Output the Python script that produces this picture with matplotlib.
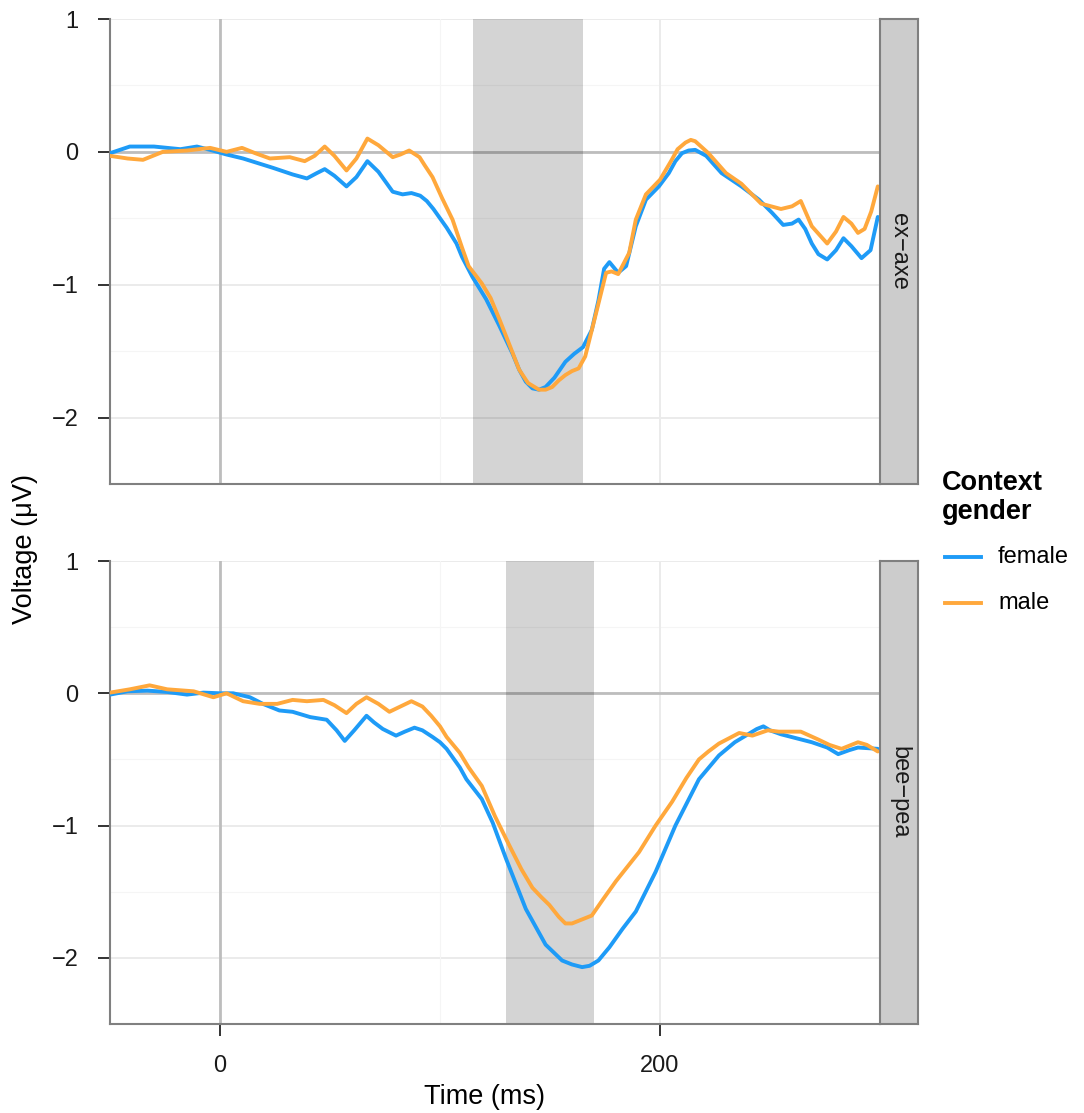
import matplotlib
matplotlib.use("Agg")
import matplotlib.pyplot as plt
from matplotlib.lines import Line2D

plt.rcParams['font.family'] = ['Liberation Sans', 'DejaVu Sans']

# ---------------- data ----------------
panels = ["ex\u2212axe", "bee\u2212pea"]
series_names = ["female", "male"]
series_colors = ["#1E9BF7", "#FFA83C"]
shade_windows = [(115, 165), (130, 170)]

top_female_t = [-50, -41, -30, -18, -10.5, -4.5, 3, 10.5, 24, 33, 39.5, 44, 47.6, 52, 57.5, 62,
                67, 72, 78.5, 83, 87, 91, 94, 97, 100, 103, 107.5, 110, 114.7, 121, 127, 133,
                136, 139, 142, 145, 148, 152, 157, 161, 165, 169, 172, 174.6, 177, 181, 184.6,
                189, 193.6, 199.5, 204, 207, 210, 213, 216, 221, 228, 237, 245, 251, 256, 260,
                263, 266, 269, 272, 276, 280, 283.4, 287, 291.6, 295.7, 299]
top_female_v = [-0.01, 0.04, 0.04, 0.02, 0.04, 0.015, -0.02, -0.05, -0.12, -0.17, -0.2, -0.16,
                -0.13, -0.18, -0.26, -0.19, -0.07, -0.15, -0.3, -0.32, -0.31, -0.33, -0.37, -0.43,
                -0.5, -0.57, -0.69, -0.79, -0.94, -1.11, -1.31, -1.52, -1.64, -1.73, -1.78, -1.79,
                -1.77, -1.7, -1.58, -1.52, -1.47, -1.34, -1.12, -0.88, -0.83, -0.91, -0.86,
                -0.56, -0.36, -0.26, -0.16, -0.07, -0.01, 0.01, 0.015, -0.03, -0.16, -0.26,
                -0.36, -0.46, -0.55, -0.54, -0.51, -0.58, -0.69, -0.77, -0.81, -0.74, -0.65,
                -0.71, -0.8, -0.74, -0.49]

top_male_t = [-50, -42, -35, -26, -15, -4.5, 3, 10, 16, 22.7, 31.7, 38.5, 43, 47.6, 52, 57.5, 62,
              67, 72, 78.5, 82, 86, 90.7, 93, 96.6, 101, 105.7, 110, 113, 119, 123, 127, 132,
              136, 140, 145, 148, 151, 154, 157, 160, 163, 166, 171, 175.5, 178, 181, 186, 189,
              193.6, 200, 205, 208, 211.6, 214, 216, 222, 230, 237, 246, 255, 260, 264, 269,
              276, 280, 283.4, 287, 290, 293, 296, 299]
top_male_v = [-0.03, -0.05, -0.06, 0.0, 0.01, 0.03, 0.0, 0.03, -0.01, -0.05, -0.04, -0.07, -0.03,
              0.04, -0.03, -0.14, -0.05, 0.1, 0.05, -0.04, -0.02, 0.01, -0.04, -0.1, -0.19, -0.35,
              -0.51, -0.72, -0.86, -0.99, -1.1, -1.26, -1.47, -1.64, -1.74, -1.79, -1.79, -1.77,
              -1.72, -1.68, -1.65, -1.63, -1.54, -1.21, -0.91, -0.9, -0.92, -0.76, -0.51, -0.32,
              -0.21, -0.07, 0.02, 0.07, 0.09, 0.08, -0.01, -0.16, -0.24, -0.39, -0.43, -0.41,
              -0.37, -0.56, -0.69, -0.6, -0.49, -0.54, -0.61, -0.58, -0.45, -0.26]

bottom_female_t = [-50, -42, -33, -24, -15, -7.5, 0, 6, 13.6, 19.5, 27, 33, 41, 48.5, 53, 56.7,
                   61, 66.6, 70, 74, 80, 84, 88.4, 92, 96.6, 100, 103, 109, 112, 119, 124, 130,
                   139, 148, 155.5, 160, 164.6, 168, 172, 177, 183, 189, 198, 207, 217.7, 226.8,
                   234, 240, 244, 247, 250, 255, 269, 276, 281, 286, 290, 299]
bottom_female_v = [-0.01, 0.015, 0.02, 0.01, -0.01, 0.005, 0.0, 0.0, -0.03, -0.08, -0.13, -0.14,
                   -0.18, -0.2, -0.28, -0.36, -0.28, -0.17, -0.22, -0.27, -0.32, -0.29, -0.26,
                   -0.28, -0.33, -0.37, -0.42, -0.56, -0.65, -0.8, -0.98, -1.25, -1.63, -1.9,
                   -2.02, -2.05, -2.07, -2.06, -2.02, -1.92, -1.78, -1.65, -1.35, -1.0, -0.65,
                   -0.47, -0.37, -0.31, -0.27, -0.25, -0.28, -0.31, -0.37, -0.41, -0.46, -0.43,
                   -0.41, -0.42]

bottom_male_t = [-50, -41, -32, -24, -12, -3, 3, 10.5, 18, 26, 33, 39.5, 47, 52, 57.5, 62, 66.6,
                 72, 77, 82, 87, 92, 96, 100, 103, 109, 113, 119, 125, 131.5, 137, 142, 146,
                 149.7, 154, 157, 160, 163, 169, 174, 180, 190.5, 198, 205.5, 212, 217.7, 222,
                 226.8, 236, 242, 249, 254, 264, 272, 277, 282.5, 287, 290, 294, 299]
bottom_male_v = [0.005, 0.03, 0.06, 0.03, 0.015, -0.03, 0.0, -0.06, -0.08, -0.08, -0.05, -0.06,
                 -0.05, -0.09, -0.15, -0.08, -0.03, -0.08, -0.14, -0.1, -0.06, -0.1, -0.17, -0.25,
                 -0.33, -0.45, -0.56, -0.7, -0.93, -1.15, -1.33, -1.47, -1.54, -1.6, -1.69, -1.74,
                 -1.74, -1.72, -1.68, -1.56, -1.42, -1.2, -1.0, -0.82, -0.64, -0.5, -0.44, -0.38,
                 -0.3, -0.32, -0.28, -0.29, -0.29, -0.35, -0.39, -0.42, -0.39, -0.37, -0.39,
                 -0.44]

panel_data = [
    [(top_female_t, top_female_v), (top_male_t, top_male_v)],
    [(bottom_female_t, bottom_female_v), (bottom_male_t, bottom_male_v)],
]

x_ticks = [0, 200]
y_ticks = [-2, -1, 0, 1]

# ---------------- layout ----------------
W, H = 1084, 1113
fig = plt.figure(figsize=(W / 100, H / 100), dpi=100)

def fx(px):
    return px / W

def fy(py):
    return 1 - py / H

panel_px = [(19, 484), (561, 1024)]
left_px, right_px, strip_right_px = 110, 880, 918

axes = []
for i, (top, bot) in enumerate(panel_px):
    ax = fig.add_axes([fx(left_px), fy(bot), fx(right_px - left_px), (bot - top) / H])
    axes.append(ax)
    ax.set_xlim(-50, 300)
    ax.set_ylim(-2.5, 1)
    ax.set_facecolor("white")
    for yv in [-2, -1, 0, 1]:
        ax.axhline(yv, color="#EBEBEB", lw=1.4, zorder=0)
    for yv in [-2.5, -1.5, -0.5, 0.5]:
        ax.axhline(yv, color="#F5F5F5", lw=0.8, zorder=0)
    for xv in [0, 200]:
        ax.axvline(xv, color="#EBEBEB", lw=1.4, zorder=0)
    for xv in [100, 300]:
        ax.axvline(xv, color="#F5F5F5", lw=0.8, zorder=0)
    ax.axhline(0, color="#BDBDBD", lw=2.0, zorder=1)
    ax.axvline(0, color="#BDBDBD", lw=2.0, zorder=1)
    s0, s1 = shade_windows[i]
    ax.axvspan(s0, s1, color="black", alpha=0.17, lw=0, zorder=2)
    for (t, v), name, col in zip(panel_data[i], series_names, series_colors):
        ax.plot(t, v, color=col, lw=2.8, solid_joinstyle="round",
                solid_capstyle="round", zorder=3, label=name)
    for sp in ["top", "right"]:
        ax.spines[sp].set_visible(False)
    for sp in ["left", "bottom"]:
        ax.spines[sp].set_color("#808080")
        ax.spines[sp].set_linewidth(1.5)
    ax.set_yticks(y_ticks)
    ax.set_xticks(x_ticks)
    ax.tick_params(axis="both", length=8.5, width=1.4, color="#333333",
                   labelsize=17, labelcolor="#1A1A1A", pad=14)
    if i == 0:
        ax.tick_params(axis="x", bottom=False, labelbottom=False)
    sax = fig.add_axes([fx(right_px), fy(bot), fx(strip_right_px - right_px), (bot - top) / H])
    sax.set_facecolor("#CCCCCC")
    sax.set_xticks([])
    sax.set_yticks([])
    for sp in sax.spines.values():
        sp.set_color("#7F7F7F")
        sp.set_linewidth(1.5)
    sax.text(0.5, 0.5, panels[i], rotation=-90, ha="center", va="center",
             fontsize=17, color="#1A1A1A", transform=sax.transAxes)

fig.text(fx(484), fy(1097), "Time (ms)", ha="center", va="center", fontsize=19.5)
fig.text(fx(25), fy(549), "Voltage (\u03bcV)", ha="center", va="center",
         rotation=90, fontsize=19.5)

# legend (drawn in figure coordinates)
fig.text(fx(942), fy(470), "Context\ngender", ha="left", va="top", fontsize=19.5,
         fontweight="bold", linespacing=1.15)
for name, col, ypx in zip(series_names, series_colors, [557, 603]):
    fig.add_artist(Line2D([fx(945), fx(981)], [fy(ypx), fy(ypx)], color=col, lw=2.8,
                          transform=fig.transFigure))
    fig.text(fx(998), fy(ypx), name, ha="left", va="center", fontsize=17)

fig.savefig("out.png", dpi=100)
